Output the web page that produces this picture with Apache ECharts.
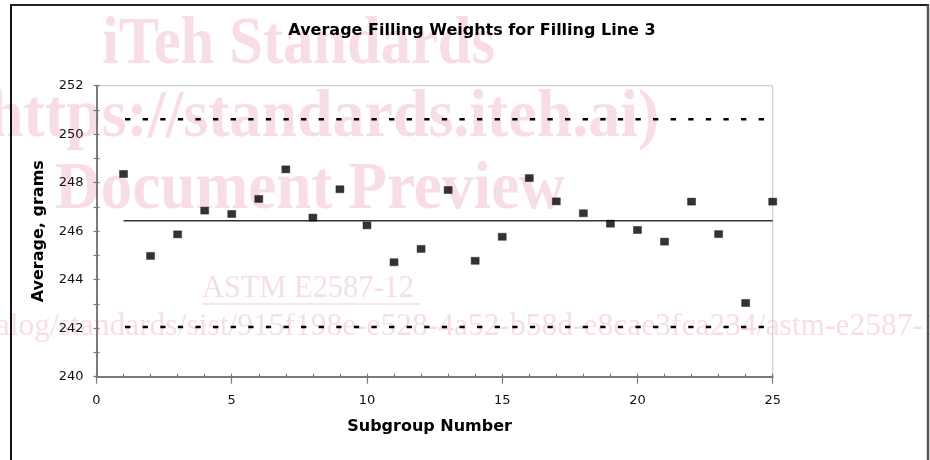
<!DOCTYPE html>
<html>
<head>
<meta charset="utf-8">
<script src="https://cdn.jsdelivr.net/npm/echarts@6/dist/echarts.min.js"></script>
<style>
  html, body { margin: 0; padding: 0; background: #fff; }
  #chart { width: 930px; height: 460px; }
</style>
</head>
<body>
<div id="chart"></div>
<script>
// ---- data ----
const subgroups = [1, 2, 3, 4, 5, 6, 7, 8, 9, 10, 11, 12, 13, 14, 15, 16, 17, 18, 19, 20, 21, 22, 23, 24, 25];
const averages = [248.36, 244.98, 245.87, 246.85, 246.71, 247.33, 248.55, 246.56, 247.73, 246.24,
                  244.72, 245.27, 247.70, 244.78, 245.77, 248.19, 247.23, 246.74, 246.31, 246.05,
                  245.57, 247.22, 245.88, 243.04, 247.22];
const upperLimit = 250.62;
const centerLine = 246.43;
const lowerLimit = 242.05;
const xTicks = [0, 5, 10, 15, 20, 25];
const yTicks = [240, 242, 244, 246, 248, 250, 252];

const titleText = 'Average Filling Weights for Filling Line 3';
const xName = 'Subgroup Number';
const yName = 'Average, grams';
const watermarkLines = ['iTeh Standards', 'https://standards.iteh.ai)', 'Document Preview'];
const watermarkStd = 'ASTM E2587-12';
const watermarkUrl = 'https://standards.iteh.ai/catalog/standards/sist/915f198e-e528-4a52-b58d-e8cae3fca234/astm-e2587-12';

// ---- chart ----
const chart = echarts.init(document.getElementById('chart'), null, { renderer: 'canvas' });
const first = subgroups[0], last = subgroups[subgroups.length - 1];
const xMin = xTicks[0], xMax = xTicks[xTicks.length - 1];
const yMin = yTicks[0], yMax = yTicks[yTicks.length - 1];

const axisGray = '#7a7a7a';
const pink = '#f9dde6';
const wmBold = 'bold 68px "Liberation Serif", "DejaVu Serif", serif';

const graphic = [
  // watermark
  { type: 'text', x: 102, y: 68 - 23, scaleX: 0.89, z: -10, silent: true,
    style: { text: watermarkLines[0], font: wmBold, fill: pink, textVerticalAlign: 'middle' } },
  { type: 'text', x: -12, y: 141 - 23, scaleX: 0.94, z: -10, silent: true,
    style: { text: watermarkLines[1], font: wmBold, fill: pink, textVerticalAlign: 'middle' } },
  { type: 'text', x: 55, y: 213 - 23, scaleX: 0.93, z: -10, silent: true,
    style: { text: watermarkLines[2], font: wmBold, fill: pink, textVerticalAlign: 'middle' } },
  { type: 'text', x: 202, y: 300 - 11, scaleX: 0.95, z: -10, silent: true,
    style: { text: watermarkStd, font: '32px "Liberation Serif", serif', fill: pink, textVerticalAlign: 'middle' } },
  { type: 'line', z: -10, silent: true, shape: { x1: 202, y1: 304, x2: 421, y2: 304 },
    style: { stroke: pink, lineWidth: 1.5 } },
  { type: 'text', x: -342, y: 337 - 10.5, z: -10, silent: true,
    style: { text: watermarkUrl, font: '31.5px "Liberation Serif", serif', fill: pink, textVerticalAlign: 'middle' } },
  // frame
  { type: 'line', silent: true, shape: { x1: 11, y1: 5, x2: 11, y2: 460 }, style: { stroke: '#111', lineWidth: 2 } },
  { type: 'line', silent: true, shape: { x1: 10, y1: 5, x2: 929, y2: 5 }, style: { stroke: '#222', lineWidth: 2 } },
  { type: 'line', silent: true, shape: { x1: 928, y1: 5, x2: 928, y2: 460 }, style: { stroke: '#555', lineWidth: 2.5 } }
];

const limitLine = (v, dashed) => ({
  type: 'line',
  xAxisIndex: 0, yAxisIndex: 0,
  data: [[first, v], [last, v]],
  symbol: 'none',
  silent: true,
  z: 3,
  lineStyle: dashed
    ? { color: '#000', width: 2.5, type: [5.3, 12.3], dashOffset: -1.5 }
    : { color: '#333', width: 1.3, type: 'solid' }
});

const option = {
  backgroundColor: '#fff',
  animation: false,
  title: {
    text: titleText,
    left: 467, top: 18, textAlign: 'center',
    textStyle: { fontFamily: '"DejaVu Sans"', fontWeight: 'bold', fontSize: 16, color: '#000' }
  },
  grid: { left: 96.5, top: 85.7, width: 676.2, height: 291, show: true, borderColor: '#c4c4c4', borderWidth: 1, containLabel: false },
  xAxis: [
    {
      type: 'value', min: xMin, max: xMax, interval: 5,
      name: xName, nameLocation: 'middle', nameGap: 42,
      nameTextStyle: { fontFamily: '"DejaVu Sans"', fontWeight: 'bold', fontSize: 16, color: '#000', padding: [0, 10, 0, 0] },
      axisLine: { show: true, onZero: false, lineStyle: { color: axisGray, width: 2 } },
      axisTick: { show: true, inside: false, length: 7, lineStyle: { color: axisGray, width: 1.2 } },
      axisLabel: { margin: 17, fontFamily: '"DejaVu Sans"', fontSize: 13, color: '#111',
        formatter: v => (xTicks.includes(v) ? String(v) : '') },
      splitLine: { show: false }
    },
    {
      type: 'value', min: xMin, max: xMax, interval: 1, position: 'bottom',
      axisLine: { show: false, onZero: false },
      axisTick: { show: true, inside: true, length: 3, lineStyle: { color: axisGray, width: 1.2 } },
      axisLabel: { show: false }, splitLine: { show: false }
    }
  ],
  yAxis: [
    {
      type: 'value', min: yMin, max: yMax, interval: 2,
      name: yName, nameLocation: 'middle', nameGap: 50, nameRotate: 90,
      nameTextStyle: { fontFamily: '"DejaVu Sans"', fontWeight: 'bold', fontSize: 16, color: '#000' },
      axisLine: { show: true, onZero: false, lineStyle: { color: axisGray, width: 2 } },
      axisTick: { show: true, inside: false, length: 3, lineStyle: { color: axisGray, width: 1.2 } },
      minorTick: { show: true, splitNumber: 2, length: 3, lineStyle: { color: axisGray, width: 1.2 } },
      axisLabel: { margin: 13, fontFamily: '"DejaVu Sans"', fontSize: 13, color: '#111',
        formatter: v => (yTicks.includes(v) ? String(v) : '') },
      splitLine: { show: false }
    },
    {
      type: 'value', min: yMin, max: yMax, interval: 1, position: 'left',
      axisLine: { show: false, onZero: false },
      axisTick: { show: true, inside: true, length: 3, lineStyle: { color: axisGray, width: 1.2 } },
      axisLabel: { show: false }, splitLine: { show: false }
    }
  ],
  graphic: graphic,
  series: [
    limitLine(upperLimit, true),
    limitLine(lowerLimit, true),
    limitLine(centerLine, false),
    {
      type: 'scatter',
      xAxisIndex: 0, yAxisIndex: 0,
      data: subgroups.map((s, i) => [s, averages[i]]),
      symbol: 'rect',
      symbolSize: [8, 7],
      z: 5,
      itemStyle: { color: '#000', borderColor: '#222', borderWidth: 0.6 }
    }
  ]
};
chart.setOption(option);
</script>
</body>
</html>
